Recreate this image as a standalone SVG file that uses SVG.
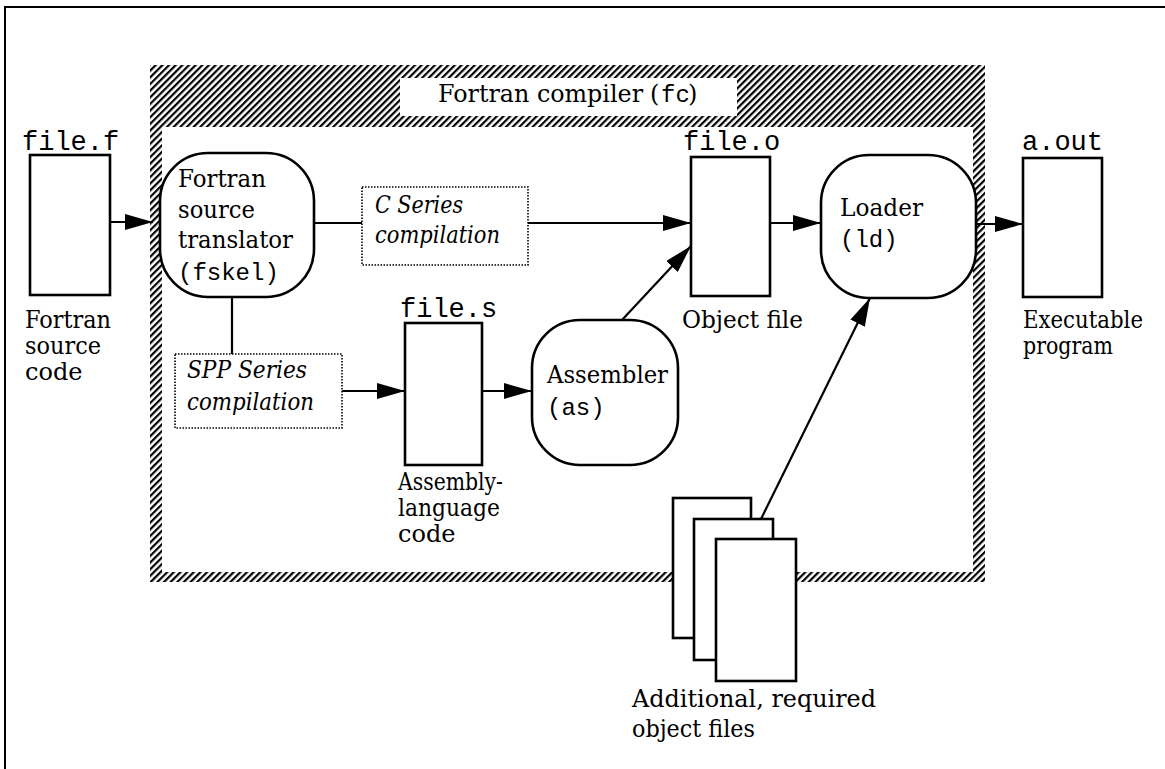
<svg xmlns="http://www.w3.org/2000/svg" width="1165" height="769" viewBox="0 0 1165 769">
<defs>
<pattern id="hatch" width="4.7" height="10" patternUnits="userSpaceOnUse" patternTransform="rotate(45)">
<rect x="0" y="0" width="2.2" height="10" fill="#000"/>
</pattern>
<marker id="arr" markerUnits="userSpaceOnUse" markerWidth="28" markerHeight="16" refX="28" refY="8" orient="auto">
<path d="M0,0 L28,8 L0,16 Z" fill="#000"/>
</marker>
</defs>
<style>
.t{font-family:"DejaVu Serif","Liberation Serif",serif;font-size:24px;fill:#000}
.i{font-family:"DejaVu Serif","Liberation Serif",serif;font-size:24px;font-style:italic;fill:#000}
.m{font-family:"Liberation Mono","DejaVu Sans Mono",monospace;font-size:27px;fill:#000}
.mi{font-family:"Liberation Mono","DejaVu Sans Mono",monospace;font-size:24px;fill:#000}
.box{fill:#fff;stroke:#000;stroke-width:2.6}
.dot{fill:#fff;stroke:#000;stroke-width:1.6;stroke-dasharray:1.5 1.5}
.ln{fill:none;stroke:#000;stroke-width:2.2}
</style>
<rect width="1165" height="769" fill="#fff"/>
<polyline points="5,769 5,7 1165,7" fill="none" stroke="#000" stroke-width="2"/>

<g id="compiler-frame">
<path d="M150,65 H985 V582 H150 Z M162,127 V572 H973 V127 Z" fill="url(#hatch)" fill-rule="evenodd"/>
<rect x="400" y="78" width="337" height="38" fill="#fff"/>
<text x="438" y="102" class="t" font-size="25" textLength="205" lengthAdjust="spacingAndGlyphs">Fortran compiler</text>
<text x="650" y="102" class="t" font-size="25">(</text>
<text x="661" y="102" class="mi" font-size="22">fc</text>
<text x="688" y="102" class="t" font-size="25">)</text>
</g>

<g id="connectors">
<line x1="110" y1="222" x2="153" y2="222" class="ln" marker-end="url(#arr)"/>
<line x1="314" y1="223" x2="362" y2="223" class="ln"/>
<line x1="528" y1="223" x2="691" y2="223" class="ln" marker-end="url(#arr)"/>
<line x1="770" y1="223" x2="821" y2="223" class="ln" marker-end="url(#arr)"/>
<line x1="976" y1="224" x2="1023" y2="224" class="ln" marker-end="url(#arr)"/>
<line x1="232" y1="297" x2="232" y2="354" class="ln"/>
<line x1="342" y1="391" x2="405" y2="391" class="ln" marker-end="url(#arr)"/>
<line x1="482" y1="391" x2="532" y2="391" class="ln" marker-end="url(#arr)"/>
<line x1="622" y1="320" x2="691" y2="246" class="ln" marker-end="url(#arr)"/>
<line x1="761" y1="519" x2="870" y2="298" class="ln" marker-end="url(#arr)"/>
</g>

<g id="file-f">
<text x="22" y="150" class="m">file.f</text>
<rect x="30" y="155" width="80" height="140" class="box"/>
<text x="25" y="328" class="t" textLength="86" lengthAdjust="spacingAndGlyphs">Fortran</text>
<text x="25" y="354" class="t" textLength="76" lengthAdjust="spacingAndGlyphs">source</text>
<text x="25" y="380" class="t">code</text>
</g>

<g id="translator">
<rect x="160" y="153" width="154" height="144" rx="48" class="box"/>
<text x="178" y="187" class="t" textLength="88" lengthAdjust="spacingAndGlyphs">Fortran</text>
<text x="178" y="218" class="t" textLength="77" lengthAdjust="spacingAndGlyphs">source</text>
<text x="178" y="248" class="t" textLength="115" lengthAdjust="spacingAndGlyphs">translator</text>
<text x="178" y="280" class="mi">(fskel)</text>
</g>

<g id="c-series">
<rect x="362" y="187" width="166" height="78" class="dot"/>
<text x="375" y="213" class="i" textLength="88" lengthAdjust="spacingAndGlyphs">C Series</text>
<text x="375" y="243" class="i" textLength="125" lengthAdjust="spacingAndGlyphs">compilation</text>
</g>

<g id="spp-series">
<rect x="175" y="354" width="167" height="74" class="dot"/>
<text x="187" y="378" class="i" textLength="120" lengthAdjust="spacingAndGlyphs">SPP Series</text>
<text x="187" y="410" class="i" textLength="127" lengthAdjust="spacingAndGlyphs">compilation</text>
</g>

<g id="file-o">
<text x="683" y="150" class="m">file.o</text>
<rect x="691" y="157" width="79" height="139" class="box"/>
<text x="682" y="328" class="t" textLength="121" lengthAdjust="spacingAndGlyphs">Object file</text>
</g>

<g id="loader">
<rect x="821" y="155" width="155" height="143" rx="48" class="box"/>
<text x="840" y="216" class="t" textLength="83" lengthAdjust="spacingAndGlyphs">Loader</text>
<text x="840" y="247" class="mi">(ld)</text>
</g>

<g id="a-out">
<text x="1022" y="150" class="m">a.out</text>
<rect x="1023" y="158" width="79" height="139" class="box"/>
<text x="1023" y="328" class="t" textLength="120" lengthAdjust="spacingAndGlyphs">Executable</text>
<text x="1023" y="354" class="t" textLength="90" lengthAdjust="spacingAndGlyphs">program</text>
</g>

<g id="file-s">
<text x="400" y="317" class="m">file.s</text>
<rect x="405" y="323" width="77" height="142" class="box"/>
<text x="398" y="490" class="t" textLength="105" lengthAdjust="spacingAndGlyphs">Assembly-</text>
<text x="398" y="516" class="t" textLength="102" lengthAdjust="spacingAndGlyphs">language</text>
<text x="398" y="542" class="t">code</text>
</g>

<g id="assembler">
<rect x="532" y="320" width="146" height="145" rx="48" class="box"/>
<text x="547" y="383" class="t" textLength="121" lengthAdjust="spacingAndGlyphs">Assembler</text>
<text x="547" y="415" class="mi">(as)</text>
</g>

<g id="object-files">
<rect x="673" y="498" width="78" height="140" class="box"/>
<rect x="694" y="519" width="79" height="141" class="box"/>
<rect x="716" y="539" width="80" height="142" class="box"/>
<text x="632" y="707" class="t" textLength="244" lengthAdjust="spacingAndGlyphs">Additional, required</text>
<text x="632" y="737" class="t" textLength="123" lengthAdjust="spacingAndGlyphs">object files</text>
</g>
</svg>
